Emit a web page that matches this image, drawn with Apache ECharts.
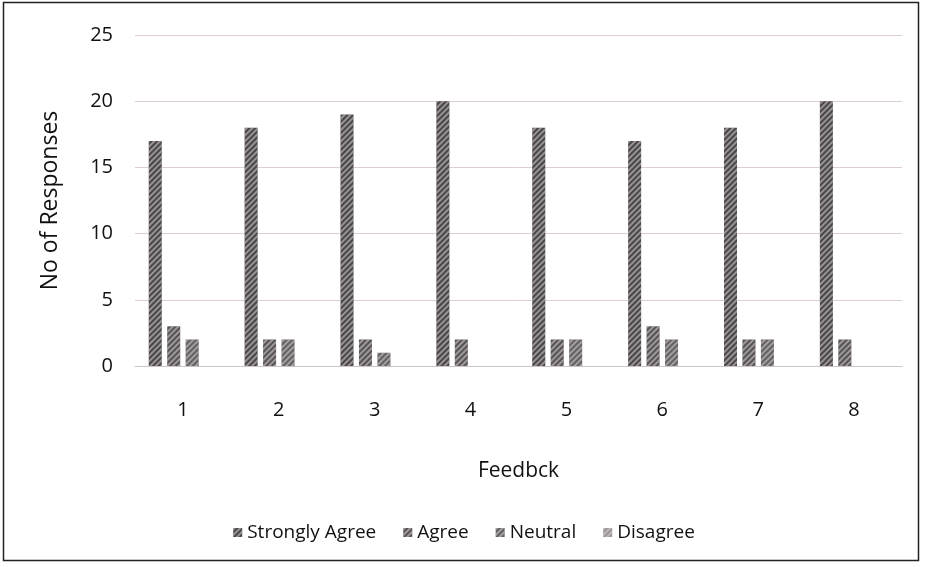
<!DOCTYPE html>
<html><head><meta charset="utf-8">
<script src="https://cdn.jsdelivr.net/npm/echarts@6/dist/echarts.min.js"></script>
<style>html,body{margin:0;padding:0;background:#fff}#c{width:928px;height:567px}</style>
</head><body><div id="c"></div>
<script>
var categories = ['1','2','3','4','5','6','7','8'];
var stronglyAgree = [17,18,19,20,18,17,18,20];
var agree = [3,2,2,2,2,3,2,2];
var neutral = [2,2,1,0,2,2,2,0];
var disagree = [0,0,0,0,0,0,0,0];
var seriesNames = ['Strongly Agree','Agree','Neutral','Disagree'];
var yTicks = [0,5,10,15,20,25];

var fills = ['#4a4648','#575355','#646062','#9a9698'];
function mk(name, data, i){
  return {name:name, type:'bar', data:data, barWidth:13, barGap:'42%',
    itemStyle:{color:fills[i], borderWidth:0,
      decal:{symbol:'rect', dashArrayX:[1,0], dashArrayY:[2,2], rotation:-Math.PI/4, color:'rgba(215,210,213,0.55)'}}};
}
var ff = 'Open Sans, Liberation Sans, sans-serif';
var chart = echarts.init(document.getElementById('c'));
chart.setOption({
  animation:false,
  textStyle:{fontFamily:ff, color:'#111'},
  graphic:[{type:'rect', shape:{x:3.5,y:2.5,width:915,height:558}, style:{fill:'none', stroke:'#222', lineWidth:1.5}}],
  grid:{left:135, right:26, top:35, bottom:201},
  legend:{bottom:20, left:'center', itemWidth:9, itemHeight:9, itemGap:27, icon:'rect',
    textStyle:{fontSize:19, color:'#111', fontFamily:ff}, data:seriesNames},
  xAxis:{type:'category', data:categories, name:'Feedbck', nameLocation:'middle', nameGap:95,
    nameTextStyle:{fontSize:21, color:'#111'},
    axisLine:{lineStyle:{color:'#cfc4c7'}}, axisTick:{show:false},
    axisLabel:{fontSize:20, color:'#111', margin:34}},
  yAxis:{type:'value', min:0, max:25, interval:5, name:'No of Responses', nameLocation:'middle', nameGap:73,
    nameTextStyle:{fontSize:23, color:'#111'},
    axisLine:{show:false}, axisTick:{show:false},
    axisLabel:{fontSize:20, color:'#111', margin:22, formatter:function(v){return yTicks.indexOf(v)>=0?String(v):'';}},
    splitLine:{lineStyle:{color:'#dccfd2', width:1}}},
  series:[mk(seriesNames[0],stronglyAgree,0), mk(seriesNames[1],agree,1), mk(seriesNames[2],neutral,2), mk(seriesNames[3],disagree,3)]
});
</script></body></html>
